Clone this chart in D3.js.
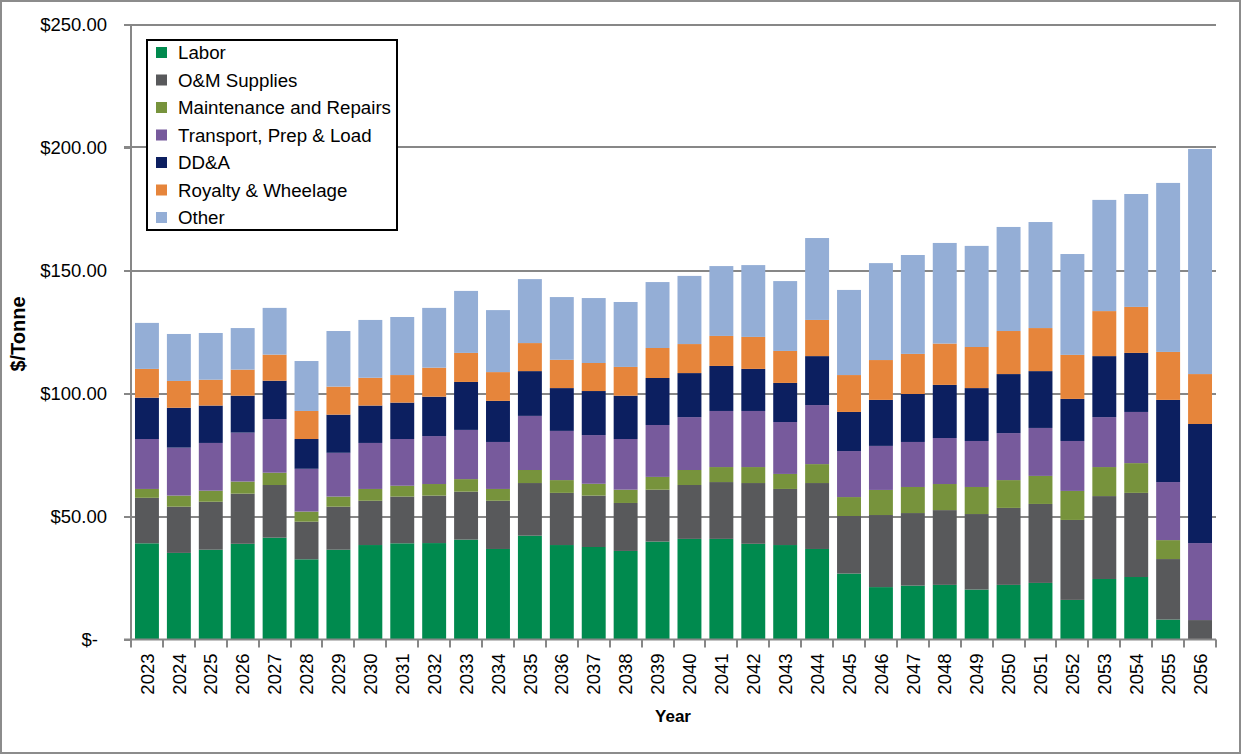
<!DOCTYPE html>
<html><head><meta charset="utf-8">
<script src="https://cdn.jsdelivr.net/npm/d3@7/dist/d3.min.js"></script>
<style>
html,body{margin:0;padding:0;background:#fff;}
svg{display:block;font-family:"Liberation Sans",Arial,sans-serif;}
</style></head>
<body><svg id="c" width="1241" height="754"></svg>
<script>
const years = ["2023","2024","2025","2026","2027","2028","2029","2030","2031","2032","2033","2034","2035","2036","2037","2038","2039","2040","2041","2042","2043","2044","2045","2046","2047","2048","2049","2050","2051","2052","2053","2054","2055","2056"];
const seriesNames = ["Labor","O&M Supplies","Maintenance and Repairs","Transport, Prep & Load","DD&A","Royalty & Wheelage","Other"];
const seriesColors = ["#008a4e","#58595b","#77933c","#775a9c","#0c1f60","#e6853b","#94aed6"];
const labor = [39.1,35.2,36.5,38.9,41.4,32.6,36.5,38.4,39.1,39.2,40.6,36.8,42.2,38.4,37.6,36.0,39.8,40.9,40.9,38.9,38.4,36.8,26.8,21.3,21.9,22.2,20.3,22.2,23.0,16.1,24.6,25.4,8.1,0];
const omSupplies = [18.5,18.8,19.5,20.4,21.4,15.3,17.5,18.0,19.0,19.3,19.5,19.6,21.4,21.2,20.9,19.5,21.1,21.9,23.1,24.7,22.8,26.8,23.4,29.3,29.5,30.4,30.7,31.3,32.1,32.5,33.7,34.2,24.6,7.9];
const maintenance = [3.6,4.5,4.5,4.9,5.0,4.1,4.1,4.8,4.4,4.7,5.1,4.8,5.3,5.2,4.8,5.4,5.2,6.1,6.1,6.5,6.1,7.7,7.7,10.2,10.6,10.6,11.0,11.3,11.4,11.8,11.8,12.1,7.7,0];
const transport = [20.3,19.5,19.4,19.9,21.8,17.4,17.8,18.7,19.0,19.5,20.0,19.1,22.0,20.0,19.8,20.6,21.1,21.5,22.8,22.8,21.1,24.0,18.7,17.9,18.3,18.7,18.7,19.1,19.5,20.3,20.3,20.8,23.6,31.3];
const dda = [16.8,16.2,15.2,15.0,15.6,12.1,15.5,15.2,14.8,16.0,19.5,16.7,18.2,17.4,17.9,17.6,19.1,17.9,18.3,17.1,15.9,19.9,15.9,18.7,19.5,21.6,21.5,24.0,23.1,17.1,24.8,24.0,33.4,48.4];
const royalty = [11.7,10.9,10.5,10.6,10.6,11.4,11.4,11.3,11.2,11.8,11.8,11.7,11.4,11.5,11.4,11.7,12.2,11.8,12.2,13.0,13.0,14.7,15.0,16.2,16.3,16.8,16.7,17.5,17.5,17.9,18.3,18.7,19.5,20.3];
const other = [18.7,19.1,19.0,16.9,19.0,20.3,22.6,23.5,23.6,24.3,25.2,25.2,26.0,25.5,26.4,26.4,26.8,27.7,28.4,29.2,28.4,33.3,34.6,39.4,40.2,40.9,41.1,42.3,43.1,41.0,45.2,45.9,68.7,91.5];
const yTicks = [0,50,100,150,200,250];
const yTickLabels = ["$-","$50.00","$100.00","$150.00","$200.00","$250.00"];
const yTitle = "$/Tonne";
const xTitle = "Year";

const seriesValues = [labor, omSupplies, maintenance, transport, dda, royalty, other];
const table = years.map((y,i)=>{const o={year:y}; seriesNames.forEach((s,k)=>o[s]=seriesValues[k][i]); return o;});

const svg = d3.select("#c");
const L=131, R=1216, T=24.5, B=639.5;
const x = d3.scaleBand().domain(years).range([L,R]).paddingInner(0.25).paddingOuter(0.125);
const y = d3.scaleLinear().domain([0,250]).range([B,T]);
const grid = "#878787";

// outer border
svg.append("rect").attr("x",1).attr("y",1).attr("width",1239).attr("height",752)
  .attr("fill","#fff").attr("stroke","#8c8c8c").attr("stroke-width",2);

// gridlines
svg.append("g").selectAll("line").data(yTicks.slice(1)).join("line")
  .attr("x1",124).attr("x2",R).attr("y1",d=>Math.round(y(d))).attr("y2",d=>Math.round(y(d)))
  .attr("stroke",grid).attr("stroke-width",2);

// bars
const stack = d3.stack().keys(seriesNames)(table);
svg.append("g").selectAll("g").data(stack).join("g")
  .attr("fill",(d,i)=>seriesColors[i])
  .selectAll("rect").data(d=>d).join("rect")
  .attr("x",d=>x(d.data.year)).attr("width",x.bandwidth())
  .attr("y",d=>y(d[1])).attr("height",d=>Math.max(0,y(d[0])-y(d[1])));

// y axis
const yAxis = d3.axisLeft(y).tickValues(yTicks).tickSize(7).tickFormat((d,i)=>yTickLabels[i]);
const ya = svg.append("g").attr("transform",`translate(${L},0)`).call(yAxis);
ya.select(".domain").attr("stroke",grid).attr("stroke-width",2).attr("d",`M-0,${B}V${T}`);
ya.selectAll(".tick line").attr("stroke",grid).attr("stroke-width",2);
ya.selectAll(".tick text").attr("x",-24).attr("font-size",18.5).attr("fill","#000")
  .attr("font-family","'Liberation Sans',Arial,sans-serif")
  .attr("dx",d=>d===0?-9:0);

// x axis
const step = x.step();
const xa = svg.append("g").attr("transform",`translate(0,${B})`);
xa.append("line").attr("x1",124).attr("x2",R).attr("y1",0).attr("y2",0).attr("stroke",grid).attr("stroke-width",2);
xa.selectAll("line.t").data(d3.range(years.length+1)).join("line").attr("class","t")
  .attr("x1",i=>Math.round(L+i*step)).attr("x2",i=>Math.round(L+i*step)).attr("y1",0).attr("y2",8)
  .attr("stroke",grid).attr("stroke-width",2);
xa.selectAll("text").data(years).join("text")
  .attr("transform",d=>`translate(${x(d)+x.bandwidth()/2},14) rotate(-90)`)
  .attr("text-anchor","end").attr("dy","0.36em").attr("font-size",18.5).attr("fill","#000").text(d=>d);

// titles
svg.append("text").attr("transform","translate(18,334) rotate(-90)").attr("text-anchor","middle")
  .attr("dy","0.35em").attr("font-weight","bold").attr("font-size",20).text(yTitle);
svg.append("text").attr("x",673).attr("y",716).attr("text-anchor","middle").attr("dy","0.35em")
  .attr("font-weight","bold").attr("font-size",17).text(xTitle);

// legend
const lg = svg.append("g");
lg.append("rect").attr("x",147).attr("y",40).attr("width",250).attr("height",190)
  .attr("fill","#fff").attr("stroke","#000").attr("stroke-width",2);
seriesNames.forEach((s,i)=>{
  const cy = 52.5 + i*27.5;
  lg.append("rect").attr("x",156).attr("y",cy-5.5).attr("width",11).attr("height",11).attr("fill",seriesColors[i]);
  lg.append("text").attr("x",178).attr("y",cy).attr("dy","0.35em").attr("font-size",18.7).attr("fill","#000").text(s);
});
</script></body></html>
